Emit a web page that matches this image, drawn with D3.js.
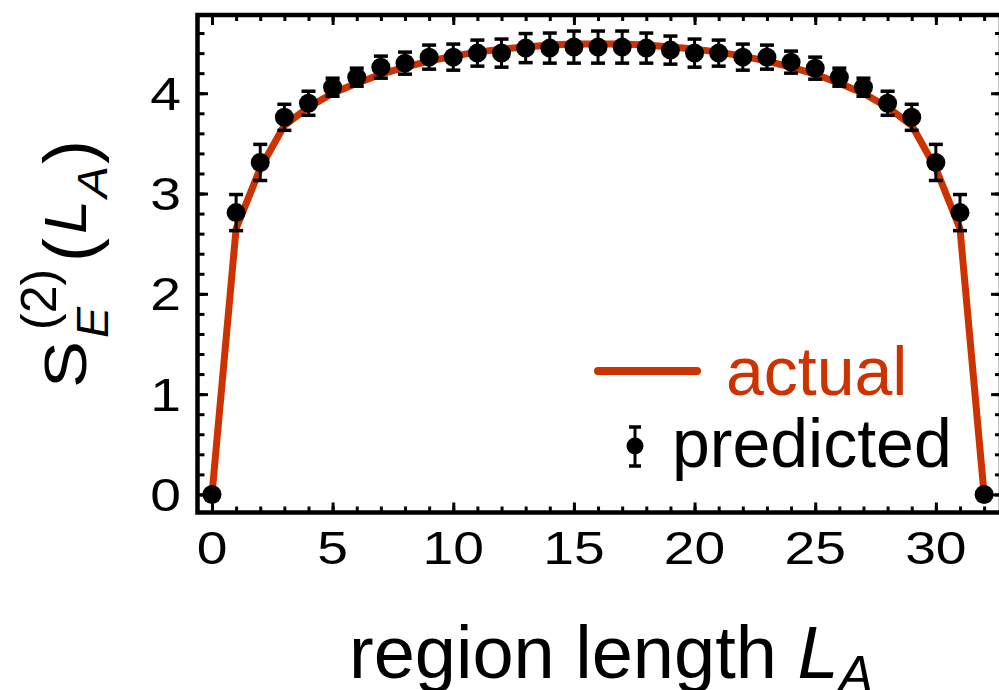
<!DOCTYPE html>
<html>
<head>
<meta charset="utf-8">
<script src="https://cdn.jsdelivr.net/npm/d3@7/dist/d3.min.js"></script>
<style>
	body{margin:0;background:#fff}
	svg{display:block}
	text{font-family:"Liberation Sans",Arial,Helvetica,sans-serif}
</style>
</head>
<body>
<svg id="chart" width="999" height="690"></svg>
<script>
	// data
	var regionLength = [0,1,2,3,4,5,6,7,8,9,10,11,12,13,14,15,16,17,18,19,20,21,22,23,24,25,26,27,28,29,30,31,32];
	var actual = [0,2.65,3.25,3.68,3.86,4.00,4.10,4.19,4.26,4.32,4.37,4.41,4.44,4.46,4.48,4.49,4.49,4.49,4.48,4.46,4.44,4.41,4.37,4.32,4.26,4.19,4.10,4.00,3.86,3.68,3.25,2.65,0];
	var predicted = [0,2.81,3.31,3.76,3.90,4.06,4.16,4.26,4.30,4.36,4.36,4.40,4.40,4.45,4.45,4.46,4.46,4.46,4.45,4.43,4.40,4.40,4.36,4.36,4.31,4.25,4.16,4.06,3.90,3.76,3.31,2.81,0];
	var predictedErr = [0,0.18,0.18,0.13,0.12,0.09,0.09,0.11,0.11,0.12,0.13,0.13,0.14,0.145,0.15,0.16,0.16,0.16,0.15,0.14,0.14,0.13,0.13,0.12,0.11,0.11,0.09,0.09,0.12,0.13,0.18,0.18,0];
	var xTickLabels = ["0","5","10","15","20","25","30"];
	var yTickLabels = ["0","1","2","3","4"];
	var xMinor = d3.range(0,33,1);
	var yMinor = d3.range(0,4.7,0.2);

	var red = "#cc3300";
	var svg = d3.select("#chart");
	var x = d3.scaleLinear().domain([-0.6,32.7]).range([197.5,1001]);
	var y = d3.scaleLinear().domain([-0.18,4.78]).range([512.5,15]);

	// ticks on all four sides, pointing inwards
	function ticks(axisFn, scale, vals, len, tr) {
		svg.append("g").attr("transform",tr)
			.call(axisFn(scale).tickValues(vals).tickSize(-len).tickFormat(""))
			.call(function(g){
				g.select(".domain").remove();
				g.selectAll("line").attr("stroke","#000").attr("stroke-width",3);
			});
	}
	var xMajor = xTickLabels.map(Number), yMajor = yTickLabels.map(Number);
	ticks(d3.axisBottom,x,xMinor,6,"translate(0,512.5)");
	ticks(d3.axisBottom,x,xMajor,10,"translate(0,512.5)");
	ticks(d3.axisTop,x,xMinor,6,"translate(0,15)");
	ticks(d3.axisTop,x,xMajor,10,"translate(0,15)");
	ticks(d3.axisLeft,y,yMinor,7,"translate(197.5,0)");
	ticks(d3.axisLeft,y,yMajor,10.5,"translate(197.5,0)");
	ticks(d3.axisRight,y,yMinor,6,"translate(1001,0)");
	ticks(d3.axisRight,y,yMajor,10,"translate(1001,0)");

	svg.append("rect")
		.attr("x",x.range()[0]).attr("y",y.range()[1])
		.attr("width",x.range()[1]-x.range()[0]).attr("height",y.range()[0]-y.range()[1])
		.attr("fill","none").attr("stroke","#000").attr("stroke-width",4.5);

	// tick labels
	svg.append("g").selectAll("g").data(xTickLabels).enter().append("g")
		.attr("transform",function(d){return "translate("+x(+d)+",564)"})
		.append("text").attr("text-anchor","middle").attr("font-size",46)
		.attr("transform","scale(1.2,1)").text(function(d){return d});
	svg.append("g").selectAll("g").data(yTickLabels).enter().append("g")
		.attr("transform",function(d){return "translate(181,"+(y(+d)+16.5)+")"})
		.append("text").attr("text-anchor","end").attr("font-size",46)
		.attr("transform","scale(1.2,1)").text(function(d){return d});

	// actual curve
	var line = d3.line().x(function(d,i){return x(regionLength[i])}).y(function(d){return y(d)});
	svg.append("path").datum(actual).attr("d",line)
		.attr("fill","none").attr("stroke",red).attr("stroke-width",7).attr("stroke-linejoin","round");

	// predicted with error bars
	var pts = regionLength.map(function(L,i){return {L:L,v:predicted[i],e:predictedErr[i]}});
	var eb = svg.append("g").attr("stroke","#000").attr("stroke-width",3);
	pts.filter(function(d){return d.e>0}).forEach(function(d){
		var cx = x(d.L);
		eb.append("line").attr("x1",cx).attr("x2",cx).attr("y1",y(d.v-d.e)).attr("y2",y(d.v+d.e));
		eb.append("line").attr("x1",cx-7).attr("x2",cx+7).attr("y1",y(d.v-d.e)).attr("y2",y(d.v-d.e)).attr("stroke-width",3.5);
		eb.append("line").attr("x1",cx-7).attr("x2",cx+7).attr("y1",y(d.v+d.e)).attr("y2",y(d.v+d.e)).attr("stroke-width",3.5);
	});
	svg.append("g").selectAll("circle").data(pts).enter().append("circle")
		.attr("cx",function(d){return x(d.L)}).attr("cy",function(d){return y(d.v)})
		.attr("r",9.5).attr("fill","#000");

	// legend
	var lg = svg.append("g");
	lg.append("line").attr("x1",598).attr("x2",697).attr("y1",371).attr("y2",371)
		.attr("stroke",red).attr("stroke-width",8).attr("stroke-linecap","round");
	lg.append("text").attr("x",726).attr("y",395).attr("font-size",68).attr("fill",red).text("actual");
	lg.append("line").attr("x1",635).attr("x2",635).attr("y1",427).attr("y2",466).attr("stroke","#000").attr("stroke-width",3);
	lg.append("line").attr("x1",629).attr("x2",641).attr("y1",427).attr("y2",427).attr("stroke","#000").attr("stroke-width",3.5);
	lg.append("line").attr("x1",629).attr("x2",641).attr("y1",466).attr("y2",466).attr("stroke","#000").attr("stroke-width",3.5);
	lg.append("circle").attr("cx",635).attr("cy",446).attr("r",8.5).attr("fill","#000");
	lg.append("text").attr("x",672).attr("y",467).attr("font-size",68).text("predicted");

	// x axis title
	var xt = svg.append("text").attr("x",349).attr("y",678).attr("font-size",74);
	xt.append("tspan").text("region length ");
	xt.append("tspan").attr("font-style","italic").text("L");
	xt.append("tspan").attr("font-style","italic").attr("font-size",52).attr("dy",14).text("A");

	// y axis title, rotated
	var yt = svg.append("g").attr("transform","translate(86,388) rotate(-90)");
	yt.append("text").attr("x",0).attr("y",0).attr("font-size",60)
		.attr("textLength",47).attr("lengthAdjust","spacingAndGlyphs").text("S");
	yt.append("text").attr("x",50).attr("y",22).attr("font-size",44).attr("font-style","italic")
		.attr("textLength",31).attr("lengthAdjust","spacingAndGlyphs").text("E");
	yt.append("text").attr("x",58).attr("y",-30).attr("font-size",50).text("(2)");
	yt.append("text").attr("x",126).attr("y",8).attr("font-size",72).text("(");
	yt.append("text").attr("x",154).attr("y",0).attr("font-size",60).attr("font-style","italic")
		.attr("textLength",34).attr("lengthAdjust","spacingAndGlyphs").text("L");
	yt.append("text").attr("x",190).attr("y",21).attr("font-size",42).attr("font-style","italic")
		.attr("textLength",32).attr("lengthAdjust","spacingAndGlyphs").text("A");
	yt.append("text").attr("x",224).attr("y",8).attr("font-size",72).text(")");
</script>
</body>
</html>
